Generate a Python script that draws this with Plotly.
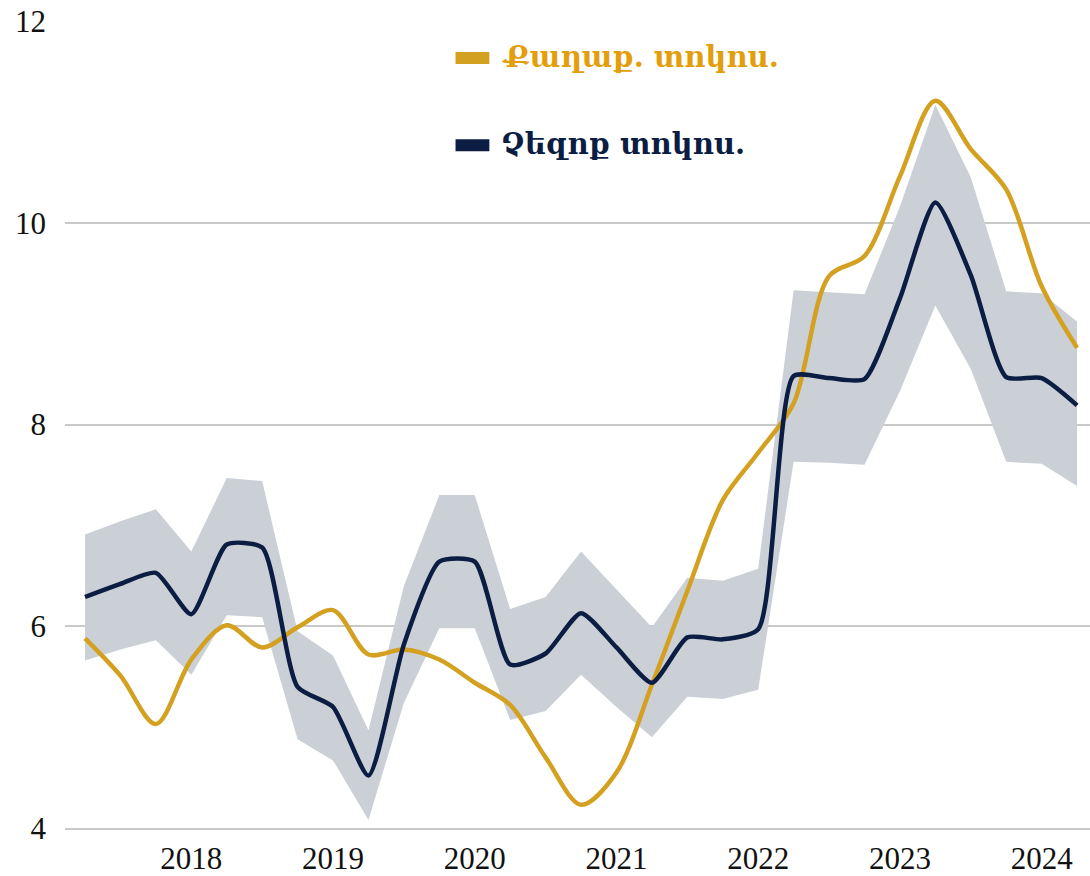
import plotly.graph_objects as go

# Quarterly observations, 2017Q2 - 2024Q2
quarters = [
    "2017Q2", "2017Q3", "2017Q4",
    "2018Q1", "2018Q2", "2018Q3", "2018Q4",
    "2019Q1", "2019Q2", "2019Q3", "2019Q4",
    "2020Q1", "2020Q2", "2020Q3", "2020Q4",
    "2021Q1", "2021Q2", "2021Q3", "2021Q4",
    "2022Q1", "2022Q2", "2022Q3", "2022Q4",
    "2023Q1", "2023Q2", "2023Q3", "2023Q4",
    "2024Q1", "2024Q2",
]

policy_rate = [5.88, 5.51, 5.03, 5.67, 6.01, 5.79, 5.99, 6.16, 5.72, 5.77,
               5.67, 5.44, 5.22, 4.70, 4.23, 4.55, 5.42, 6.35, 7.25, 7.72,
               8.21, 9.47, 9.67, 10.46, 11.21, 10.73, 10.33, 9.37, 8.76]

neutral_rate = [6.29, 6.42, 6.53, 6.12, 6.81, 6.78, 5.40, 5.20, 4.52, 5.82,
                6.64, 6.64, 5.62, 5.73, 6.13, 5.79, 5.44, 5.89, 5.87, 5.97,
                8.48, 8.46, 8.45, 9.25, 10.20, 9.48, 8.47, 8.46, 8.19]

neutral_upper = [6.91, 7.04, 7.16, 6.74, 7.47, 7.44, 5.95, 5.71, 4.97, 6.40,
                 7.30, 7.30, 6.17, 6.29, 6.74, 6.36, 5.99, 6.48, 6.45, 6.57,
                 9.33, 9.31, 9.29, 10.16, 11.17, 10.45, 9.32, 9.30, 9.02]

neutral_lower = [5.66, 5.77, 5.86, 5.52, 6.11, 6.09, 4.88, 4.67, 4.08, 5.24,
                 5.98, 5.98, 5.07, 5.16, 5.52, 5.20, 4.90, 5.30, 5.28, 5.37,
                 7.63, 7.62, 7.60, 8.33, 9.18, 8.55, 7.63, 7.61, 7.39]

year_ticks = ["2018Q1", "2019Q1", "2020Q1", "2021Q1", "2022Q1", "2023Q1", "2024Q1"]
year_labels = ["2018", "2019", "2020", "2021", "2022", "2023", "2024"]
y_ticks = [4, 6, 8, 10, 12]

series_names = ["Քաղաք. տոկոս.", "Չեզոք տոկոս."]

GOLD = "#D4A020"
GOLD_TEXT = "#E39E0C"
NAVY = "#0B1D42"
BAND = "#CBD0D7"
GRID = "#C9C9C9"
SERIF = "Liberation Serif, Times New Roman, serif"

fig = go.Figure()

# Uncertainty band around the neutral rate
fig.add_trace(go.Scatter(
    x=quarters, y=neutral_upper, mode="lines",
    line=dict(width=0, color=BAND), hoverinfo="skip", showlegend=False,
))
fig.add_trace(go.Scatter(
    x=quarters, y=neutral_lower, mode="lines",
    line=dict(width=0, color=BAND), fill="tonexty", fillcolor=BAND,
    hoverinfo="skip", showlegend=False,
))

fig.add_trace(go.Scatter(
    x=quarters, y=policy_rate, mode="lines", name=series_names[0],
    line=dict(color=GOLD, width=4.5, shape="spline", smoothing=0.9),
    showlegend=False,
))
fig.add_trace(go.Scatter(
    x=quarters, y=neutral_rate, mode="lines", name=series_names[1],
    line=dict(color=NAVY, width=4.5, shape="spline", smoothing=0.6),
    showlegend=False,
))

# Legend drawn as swatches plus labels
legend_rows = [(0.954, GOLD, GOLD_TEXT), (0.846, NAVY, NAVY)]
for (ypos, swatch, txt_color), name in zip(legend_rows, series_names):
    fig.add_shape(type="line", xref="paper", yref="paper",
                  x0=0.381, x1=0.414, y0=ypos, y1=ypos,
                  line=dict(color=swatch, width=12))
    fig.add_annotation(xref="paper", yref="paper", x=0.423, y=ypos + 0.002,
                       xanchor="left", yanchor="middle", showarrow=False,
                       text="<b>" + name + "</b>",
                       font=dict(family="DejaVu Serif", size=29, color=txt_color))

fig.update_layout(
    width=1090, height=876,
    margin=dict(l=65, r=0, t=21, b=45),
    plot_bgcolor="white", paper_bgcolor="white",
    showlegend=False,
    font=dict(family=SERIF, color="#111111"),
)
fig.update_xaxes(
    type="category", range=[-0.565, 28.365],
    tickmode="array", tickvals=year_ticks, ticktext=year_labels,
    tickfont=dict(size=31, family=SERIF, color="#111111"),
    showgrid=False, zeroline=False,
    showline=True, linecolor=GRID, linewidth=1.5, ticks="",
    ticklabelstandoff=2,
)
fig.update_yaxes(
    range=[4, 12], tickmode="array", tickvals=y_ticks,
    tickfont=dict(size=31, family=SERIF, color="#111111"),
    showgrid=True, gridcolor=GRID, gridwidth=1.5,
    zeroline=False, showline=False, ticks="",
    ticklabelstandoff=18,
)

fig.write_html("out.html")
